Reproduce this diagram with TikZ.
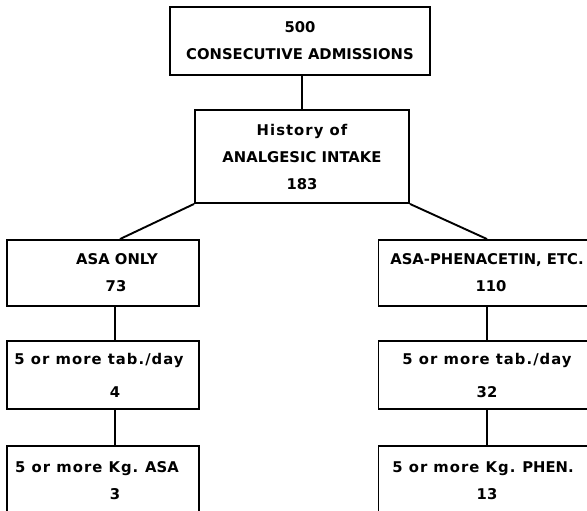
\documentclass[tikz,border=0pt]{standalone}
\usepackage{fontspec}
\setmainfont{DejaVu Sans}
\usepackage{tikz}
\usetikzlibrary{positioning}
\newcommand{\lc}[1]{{\addfontfeature{LetterSpace=7}#1}}

\begin{document}
\begin{tikzpicture}[x=1pt, y=-1pt,
    box/.style={draw, line width=1.9pt, align=center, inner sep=0pt,
        font=\bfseries\fontsize{14.8}{27}\selectfont},
    link/.style={line width=1.9pt}]
    \useasboundingbox (0,0) rectangle (587,511);
    \clip (0,0) rectangle (587,511);
    % top of the tree
    \node[box, minimum width=260pt, minimum height=68pt] (admit) at (300,41) {500\\CONSECUTIVE ADMISSIONS};
    \node[box, minimum width=214pt, minimum height=93pt] (intake) at (302,156.5) {\lc{History of}\\ANALGESIC INTAKE\\183};
    % left branch
    \node[box, minimum width=192pt, minimum height=66pt] (asaOnly) at (103,273) {\hspace*{28pt}ASA ONLY\\\hspace*{26pt}73};
    \node[box, minimum width=192pt, minimum height=68pt] (asaTab) at (103,375) {\hspace*{-8pt}\lc{5 or more tab./day}\\[6pt]\hspace*{24pt}4};
    \node[box, minimum width=192pt, minimum height=70pt] (asaKg) at (103,481) {\hspace*{-12pt}\lc{5 or more Kg.} ASA\\\hspace*{24pt}3};
    % right branch
    \node[box, minimum width=217pt, minimum height=66pt] (phen) at (487,273) {ASA-PHENACETIN, ETC.\\\hspace*{8pt}110};
    \node[box, minimum width=217pt, minimum height=68pt] (phenTab) at (487,375) {\lc{5 or more tab./day}\\[6pt]32};
    \node[box, minimum width=217pt, minimum height=70pt] (phenKg) at (487,481) {\hspace*{-8pt}\lc{5 or more Kg.} PHEN.\\13};
    \draw[link] (intake.north) -- (intake.north |- admit.south);
    \draw[link] (intake.south west) -- ([xshift=17pt]asaOnly.north);
    \draw[link] (intake.south east) -- (phen.north);
    \draw[link] ([xshift=12pt]asaOnly.south) -- ([xshift=12pt]asaTab.north);
    \draw[link] ([xshift=12pt]asaTab.south) -- ([xshift=12pt]asaKg.north);
    \draw[link] (phen) -- (phenTab);
    \draw[link] (phenTab) -- (phenKg);
\end{tikzpicture}
\end{document}
